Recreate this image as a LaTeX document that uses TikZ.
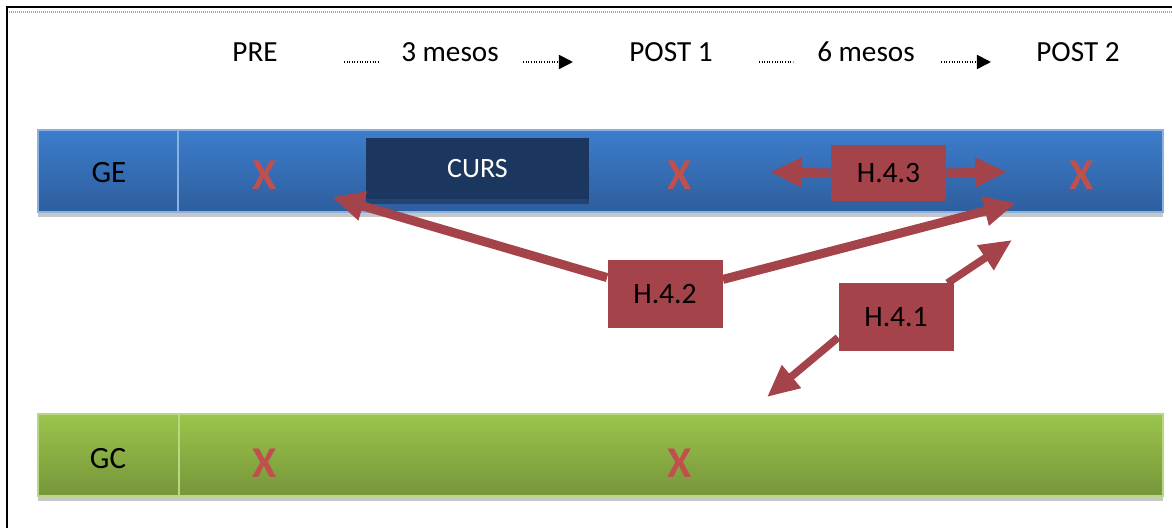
\documentclass[tikz,border=0pt]{standalone}
\usepackage{fontspec}
\setmainfont{Carlito}
\usetikzlibrary{arrows.meta,positioning}
\definecolor{geblue}{HTML}{3C7DCB}
\definecolor{gebluedk}{HTML}{2E5E9E}
\definecolor{gcgreen}{HTML}{9BC54B}
\definecolor{gcgreendk}{HTML}{76953A}
\definecolor{cursnavy}{HTML}{1B375F}
\definecolor{hypred}{HTML}{A5434A}
\definecolor{xred}{HTML}{C0504D}
\tikzset{bar/.style={minimum width=562.5pt,minimum height=41pt,inner sep=0pt,line width=0.6pt},
 gebar/.style={bar,top color=geblue,bottom color=gebluedk,draw=geblue!60!white},
 gcbar/.style={bar,top color=gcgreen,bottom color=gcgreendk,draw=gcgreen!70!white},
 lab/.style={inner sep=0pt,font=\fontsize{14.6}{17}\selectfont},
 grp/.style={inner sep=0pt,font=\fontsize{15.5}{18}\selectfont},
 xm/.style={text=xred,font=\fontsize{22}{24}\selectfont\bfseries},
 curs/.style={fill=cursnavy,text=white,minimum width=111.5pt,minimum height=30.5pt,
  inner sep=0pt,font=\fontsize{14}{16}\selectfont},
 hbox/.style={fill=hypred,minimum width=57.5pt,minimum height=34pt,inner sep=0pt,
  font=\fontsize{14.8}{17}\selectfont},
 harr/.style={-{Triangle[length=16pt,width=14pt]},draw=hypred,line width=4.5pt},
 dots/.style={line width=0.9pt,dash pattern=on 0.5pt off 0.8pt},
 darr/.style={dots,-{Triangle[length=7pt,width=7pt,sep=0pt]}},
 shade/.style={fill=black!22}}
\begin{document}
\begin{tikzpicture}[x=0.5pt,y=-0.5pt]
\useasboundingbox (0,0) rectangle (1172,528);
\draw[line width=1pt] (7,528) -- (7,7) -- (1172,7);
\draw[black!35,line width=1pt,dash pattern=on 0.5pt off 0.5pt] (9,12) -- (1172,12);
\node[lab,anchor=base] (pre) at (255,62) {PRE};
\node[lab,anchor=base] (m3) at (450,62) {3 mesos};
\node[lab,anchor=base] (p1) at (671,62) {POST 1};
\node[lab,anchor=base] (m6) at (866,62) {6 mesos};
\node[lab,anchor=base] (p2) at (1078,62) {POST 2};
\draw[dots,shorten <=33pt,shorten >=11.5pt] (pre.base east) -- (m3.base west);
\draw[darr,shorten <=12pt,shorten >=28pt] (m3.base east) -- (p1.base west);
\draw[dots,shorten <=23pt,shorten >=12pt] (p1.base east) -- (m6.base west);
\draw[darr,shorten <=13pt,shorten >=22.5pt] (m6.base east) -- (p2.base west);
\fill[shade] (38,212) rectangle (1163,217);
\fill[shade] (38,496) rectangle (1163,501);
\node[gebar] (ge) at (600.5,171) {};
\node[gcbar] (gc) at (600.5,455) {};
\draw[geblue!60!white,line width=0.6pt] (178,130) -- (178,212);
\draw[gcgreen!70!white,line width=0.6pt] (179,414) -- (179,496);
\node[grp] (gelab) at (109,173) {GE};
\node[grp] (gclab) at (108,459) {GC};
\fill[black!45!geblue] (366,199) rectangle (589,204);
\node[curs] (curs) at (477.5,168.5) {CURS};
\node[xm] (x1) at (265,175) {X};
\node[xm] (x2) at (680,175) {X};
\node[xm] (x3) at (1082,175) {X};
\node[xm] (x4) at (265,463) {X};
\node[xm] (x5) at (680,463) {X};
\node[hbox,minimum height=28pt] (h43) at (888.5,173) {H.4.3};
\node[hbox] (h42) at (665,294.5) {H.4.2};
\node[hbox] (h41) at (896,317.5) {H.4.1};
\coordinate (t43l) at (770,172);
\coordinate (t43r) at (1007,172);
\coordinate (t42l) at (332,197);
\coordinate (t42r) at (1016,203);
\coordinate (t41u) at (1012,240);
\coordinate (t41d) at (767,397);
\draw[harr] (h43.west) -- (t43l);
\draw[harr] (h43.east) -- (t43r);
\draw[harr] (h42) -- (t42l);
\draw[harr] (h42) -- (t42r);
\draw[harr,line width=3.8pt] (h41) -- (t41u);
\draw[harr,line width=3.8pt] ([yshift=-10pt]h41.west) -- (t41d);
\end{tikzpicture}
\end{document}
